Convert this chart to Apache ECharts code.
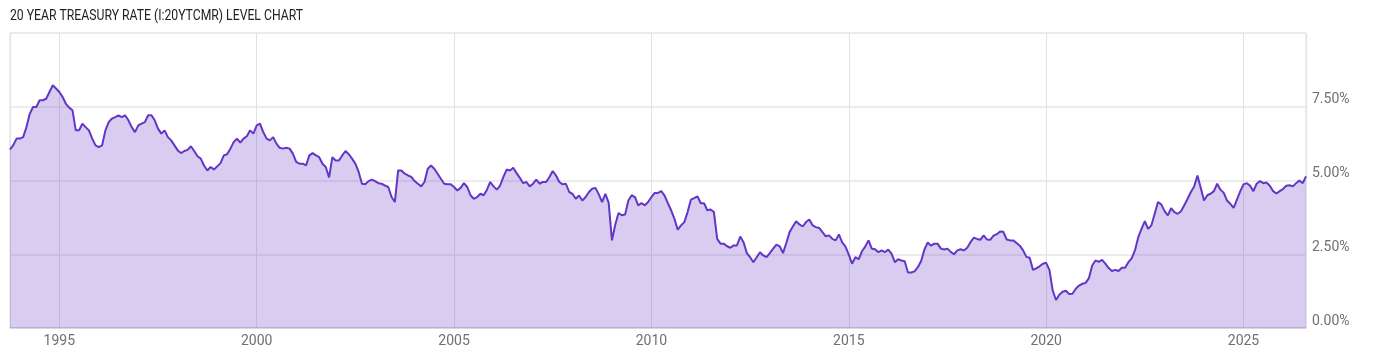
<!DOCTYPE html>
<html>
<head>
<meta charset="utf-8">
<script src="https://cdn.jsdelivr.net/npm/echarts@6/dist/echarts.min.js"></script>
<style>
  html, body { margin: 0; padding: 0; background: #fff; }
  #main { width: 1400px; height: 357px; }
</style>
</head>
<body>
<div id="main"></div>
<script>
// monthly 20 year treasury rate (%), first value is Oct 1993
var firstYear = 1993, firstMonth = 10;
var rates1990s = [
    6.05, 6.2, 6.42,
    6.42, 6.47, 6.81, 7.26, 7.49, 7.49, 7.72, 7.72, 7.77, 8.0, 8.23, 8.12,
    8.0, 7.83, 7.6, 7.47, 7.38, 6.7, 6.7, 6.93, 6.81, 6.7, 6.42, 6.19,
    6.13, 6.19, 6.7, 6.98, 7.1, 7.15, 7.21, 7.15, 7.21, 7.04, 6.81, 6.64,
    6.87, 6.93, 6.98, 7.21, 7.21, 7.04, 6.76, 6.59, 6.7, 6.47, 6.36, 6.19,
    6.02, 5.93, 6.0, 6.04, 6.16, 6.0, 5.82, 5.74, 5.51, 5.34, 5.46, 5.37,
    5.48, 5.59, 5.85, 5.89, 6.08, 6.3, 6.42, 6.28, 6.42, 6.5, 6.7, 6.59
];
var rates2000s = [
    6.87, 6.93, 6.64, 6.42, 6.36, 6.47, 6.25, 6.11, 6.08, 6.11, 6.08, 5.91,
    5.63, 5.57, 5.57, 5.51, 5.85, 5.93, 5.85, 5.79, 5.57, 5.46, 5.1, 5.79,
    5.68, 5.68, 5.85, 6.0, 5.89, 5.74, 5.57, 5.29, 4.89, 4.87, 4.98, 5.03,
    4.98, 4.91, 4.89, 4.83, 4.78, 4.44, 4.27, 5.34, 5.34, 5.23, 5.17, 5.12,
    4.98, 4.89, 4.8, 4.95, 5.4, 5.51, 5.4, 5.23, 5.06, 4.89, 4.87, 4.87,
    4.78, 4.66, 4.75, 4.91, 4.78, 4.5, 4.38, 4.44, 4.55, 4.5, 4.69, 4.95,
    4.8, 4.69, 4.83, 5.12, 5.37, 5.34, 5.43, 5.25, 5.09, 4.91, 4.95, 4.8,
    4.89, 5.03, 4.89, 4.95, 4.95, 5.12, 5.32, 5.17, 4.95, 4.87, 4.89, 4.61,
    4.55, 4.38, 4.49, 4.32, 4.44, 4.61, 4.72, 4.75, 4.53, 4.27, 4.55, 4.25,
    2.97, 3.5, 3.9, 3.82, 3.85, 4.32, 4.5, 4.44, 4.16, 4.23, 4.16, 4.27
];
var rates2010s = [
    4.44, 4.58, 4.58, 4.64, 4.49, 4.23, 3.99, 3.7, 3.33, 3.48, 3.59, 3.93,
    4.35, 4.4, 4.46, 4.23, 4.23, 3.99, 4.02, 3.93, 3.02, 2.86, 2.86, 2.77,
    2.72, 2.8, 2.8, 3.1, 2.91, 2.54, 2.4, 2.23, 2.4, 2.57, 2.46, 2.4,
    2.54, 2.69, 2.83, 2.77, 2.54, 2.88, 3.25, 3.44, 3.62, 3.51, 3.44, 3.59,
    3.68, 3.48, 3.42, 3.39, 3.25, 3.11, 3.14, 3.02, 2.97, 3.17, 2.9, 2.76,
    2.49, 2.18, 2.4, 2.33, 2.6, 2.76, 2.97, 2.69, 2.67, 2.57, 2.63, 2.57,
    2.66, 2.52, 2.23, 2.33, 2.29, 2.26, 1.88, 1.88, 1.92, 2.06, 2.27, 2.66,
    2.9, 2.79, 2.86, 2.86, 2.69, 2.66, 2.69, 2.58, 2.5, 2.63, 2.67, 2.63,
    2.72, 2.91, 3.06, 3.02, 2.99, 3.14, 3.0, 2.99, 3.13, 3.18, 3.27, 3.26,
    3.0, 2.97, 2.97, 2.88, 2.79, 2.63, 2.41, 2.38, 1.97, 2.02, 2.09, 2.18
];
var rates2020s = [
    2.21, 1.97, 1.27, 0.95, 1.13, 1.23, 1.26, 1.15, 1.16, 1.33, 1.44, 1.5,
    1.53, 1.69, 2.12, 2.29, 2.24, 2.31, 2.18, 2.03, 1.93, 1.97, 1.93, 2.04,
    2.04, 2.23, 2.36, 2.63, 3.08, 3.36, 3.62, 3.36, 3.48, 3.87, 4.27, 4.19,
    3.96, 3.82, 4.06, 3.93, 3.87, 3.96, 4.16, 4.38, 4.61, 4.8, 5.17, 4.75,
    4.32, 4.5, 4.55, 4.64, 4.89, 4.69, 4.58, 4.32, 4.21, 4.07, 4.35, 4.63,
    4.87, 4.91, 4.82, 4.64, 4.89, 4.98, 4.91, 4.93, 4.82, 4.64, 4.56, 4.64,
    4.71, 4.82, 4.84, 4.8, 4.91, 5.0, 4.91, 5.14
];
var yTicks = [0, 2.5, 5, 7.5, 10];
var titleText = '20 YEAR TREASURY RATE (I:20YTCMR) LEVEL CHART';

var rates = rates1990s.concat(rates2000s, rates2010s, rates2020s);
var seriesData = [];
rates.forEach(function (v, i) {
    // decimal year of each monthly reading
    var t = firstYear + (firstMonth - 1 + i) / 12;
    seriesData.push([t, v]);
});
var xMin = seriesData[0][0];
var xMax = seriesData[seriesData.length - 1][0];

// title is a condensed face in the original, squeeze Roboto to the same width
var titleFont = '15px Roboto';
var ctx = document.createElement('canvas').getContext('2d');
ctx.font = titleFont;
var titleScale = 293 / ctx.measureText(titleText).width;

var chart = echarts.init(document.getElementById('main'), null, { renderer: 'canvas' });
var option = {
    animation: false,
    backgroundColor: '#fff',
    graphic: [{
        type: 'text',
        x: 10,
        y: 16,
        scaleX: titleScale,
        style: {
            text: titleText,
            font: titleFont,
            fill: '#222',
            verticalAlign: 'middle'
        }
    }],
    grid: {
        left: 10,
        right: 94,
        top: 33,
        bottom: 29,
        show: true,
        borderColor: '#dcdcdc',
        borderWidth: 1
    },
    xAxis: {
        type: 'value',
        min: xMin,
        max: xMax,
        splitNumber: 7,
        axisLine: { show: true, lineStyle: { color: '#d0d0d0', width: 1.5 } },
        axisTick: { show: false },
        axisLabel: {
            showMinLabel: false,
            showMaxLabel: false,
            margin: 6,
            color: '#707070',
            fontFamily: 'Roboto',
            fontSize: 14,
            formatter: function (v) { return Math.round(v).toString(); }
        },
        splitLine: { show: true, lineStyle: { color: '#e2e2e2', width: 1 } }
    },
    yAxis: {
        type: 'value',
        position: 'right',
        min: yTicks[0],
        max: yTicks[yTicks.length - 1],
        interval: yTicks[1] - yTicks[0],
        axisLine: { show: false },
        axisTick: { show: false },
        axisLabel: {
            showMaxLabel: false,
            margin: 6,
            verticalAlign: 'bottom',
            color: '#707070',
            fontFamily: 'Roboto',
            fontSize: 14,
            formatter: function (v) { return v.toFixed(2) + '%'; }
        },
        splitLine: { show: true, lineStyle: { color: '#ececec', width: 2 } }
    },
    series: [{
        type: 'line',
        data: seriesData,
        showSymbol: false,
        symbol: 'none',
        lineStyle: { color: '#6236c6', width: 2 },
        itemStyle: { color: '#6236c6' },
        areaStyle: { color: 'rgba(98,54,198,0.25)', opacity: 1 }
    }]
};
chart.setOption(option);
</script>
</body>
</html>
